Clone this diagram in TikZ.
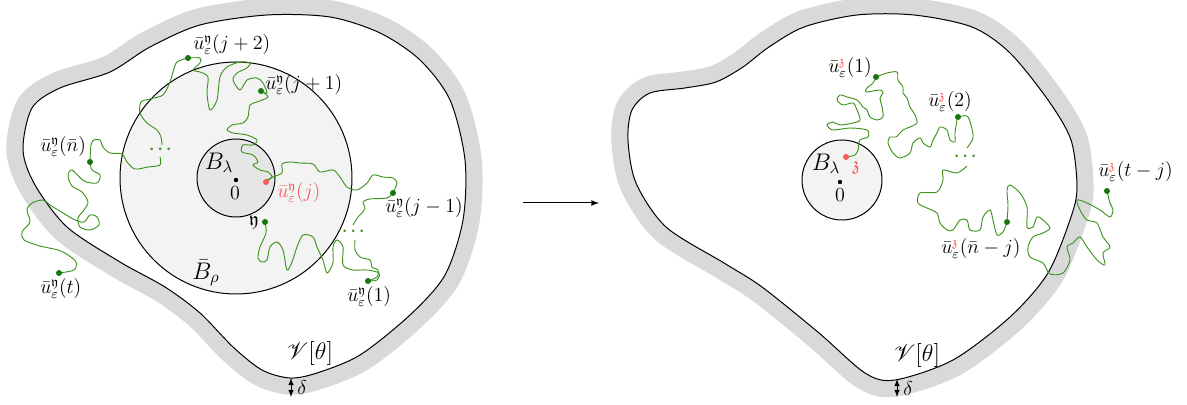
\documentclass[tikz,border=0pt]{standalone}
\usepackage{amsmath,amssymb}
\usepackage{mathrsfs}
\usepackage{xcolor}
\usepackage{tikz}
\usetikzlibrary{arrows,calc}
\definecolor{bandgray}{RGB}{217,217,217}
\definecolor{ballgray}{RGB}{243,243,243}
\definecolor{coregray}{RGB}{230,230,230}
\definecolor{walkgreen}{RGB}{60,145,25}
\definecolor{dotgreen}{RGB}{20,120,10}
\definecolor{hitred}{RGB}{250,90,90}
\newcommand{\uY}[1]{\bar u^{\mathfrak y}_\varepsilon(#1)}
\newcommand{\uZ}[1]{\bar u^{\textcolor{hitred}{\mathfrak z}}_\varepsilon(#1)}
\tikzset{
  domainline/.style={draw=black, fill=white, line width=0.6pt,
    preaction={draw=bandgray, line width=20pt}},
  walk/.style={draw=walkgreen, line width=0.55pt},
  gdot/.style={fill=dotgreen},
  rdot/.style={fill=hitred},
  lbl/.style={inner sep=0pt, font=\fontsize{11.5}{14}\selectfont},
  lblw/.style={lbl, anchor=west},
  big/.style={inner sep=0pt, font=\Large},
  gdots/.style={text=walkgreen, inner sep=0pt, font=\boldmath}
}
\begin{document}
\begin{tikzpicture}[x=0.6pt,y=-0.6pt]
    \useasboundingbox (0,0) rectangle (1187,405);
    \draw[domainline] plot[smooth cycle] coordinates {(23,150) (32,108) (60,88) (110,72) (150,47) (200,25) (267,15) (330,17) (380,33) (420,60) (450,100) (465,160) (463,220) (445,275) (410,315) (360,355) (317,373) (290,378) (262,370) (233,347) (200,313) (165,287) (120,262) (67,227) (35,185)};
    \filldraw[fill=ballgray, line width=0.6pt] (236,178) circle (116);
    \filldraw[fill=coregray, line width=0.6pt] (236,178) circle (39);
    \draw[walk] plot[smooth] coordinates {(265,222) (266,233) (260,247) (258,258) (262,262) (267,260) (270,247) (277,242) (283,250) (287,270) (292,262) (297,247) (303,235) (313,237) (317,247) (323,260) (327,273) (333,263) (333,247) (337,240) (343,247) (343,265) (353,270) (367,270) (379,273) (377,280) (368,281)};
    \draw[walk] plot[smooth] coordinates {(368,281) (377,277) (378,270) (372,267) (370,260) (360,257) (355,250) (355,240)};
    \draw[walk] plot[smooth] coordinates {(353,225) (358,217) (362,213) (365,208) (363,202) (370,199) (387,198) (393,193)};
    \draw[walk] plot[smooth] coordinates {(393,193) (397,183) (393,178) (383,177) (373,175) (367,183) (357,190) (347,187) (340,177) (333,170) (320,172) (313,164) (300,163) (290,162) (282,164) (282,173) (273,177) (266,182)};
    \draw[walk] plot[smooth] coordinates {(266,182) (267,180) (272,177) (268,172) (260,170) (253,165) (258,162) (253,155) (242,152) (243,145) (253,145) (257,140) (247,135) (233,133) (227,130) (232,125) (243,123) (248,117) (250,105) (257,102) (268,97) (261,91)};
    \draw[walk] plot[smooth] coordinates {(261,91) (267,93) (263,83) (257,78) (247,80) (240,90) (233,80) (237,73) (247,68) (250,63) (240,62) (227,67) (220,77) (217,100) (210,110) (207,93) (208,77) (200,72) (193,70) (200,63) (200,58) (188,58)};
    \draw[walk] plot[smooth] coordinates {(188,58) (177,62) (173,72) (170,82) (163,95) (150,99) (141,102) (140,113) (147,123) (157,130) (161,137) (162,145)};
    \draw[walk] plot[smooth] coordinates {(160,157) (160,165) (148,167) (135,169) (127,162) (122,154) (110,153) (103,147) (100,140) (94,140) (91,145) (90,162)};
    \draw[walk] plot[smooth] coordinates {(90,162) (92,170) (100,175) (97,183) (84,181) (72,170) (68,176) (72,186) (82,192) (88,202) (84,210) (78,218) (80,227) (90,230) (99,225) (97,217) (90,215) (84,222) (75,220) (63,213) (50,205) (43,200) (32,203) (27,210) (30,222) (22,232) (24,240) (40,246) (58,250) (68,255) (76,262) (74,270) (59,273)};
    \fill[gdot] (188,58) circle (3);
    \fill[gdot] (261,91) circle (3);
    \fill[gdot] (90,162) circle (3);
    \fill[gdot] (59,273) circle (3);
    \fill[gdot] (265,222) circle (3);
    \fill[gdot] (393,193) circle (3);
    \fill[gdot] (368,281) circle (3);
    \fill[rdot] (266,182) circle (3);
    \fill (236,180) circle (2.2);
    \node[gdots] (ldotsa) at (162,150) {$\cdots$};
    \node[gdots] (ldotsb) at (355,232) {$\cdots$};
    \node[lblw] (uj2) at (193,45) {$\uY{j+2}$};
    \node[lblw] (uj1) at (265,85) {$\uY{j+1}$};
    \node[lblw] (unbar) at (40,147) {$\uY{\bar n}$};
    \node[lblw] (ut) at (40,289) {$\uY{t}$};
    \node[lblw, text=hitred] (uj) at (277,193) {$\uY{j}$};
    \node[lbl] (ymark) at (254,223) {$\mathfrak y$};
    \node[lblw] (ujm) at (385,208) {$\uY{j-1}$};
    \node[lblw] (uone) at (347,297) {$\uY{1}$};
    \node[big] (brho) at (206,273) {$\bar B_\rho$};
    \node[big] (blaml) at (219,163) {$B_\lambda$};
    \node[lbl] (zerol) at (235,193) {$0$};
    \node[big] (vthetal) at (310,354) {$\mathscr V[\theta]$};
    \coordinate (dtopl) at (291,378);
    \coordinate (dbotl) at (291,397);
    \draw[latex-latex, line width=0.5pt] (dtopl) -- (dbotl);
    \node[lbl] (deltal) at (302,388) {$\delta$};
    \coordinate (mapfrom) at (523,203);
    \coordinate (mapto) at (599,203);
    \draw[-latex, line width=0.6pt] (mapfrom) -- (mapto);
    \draw[domainline] plot[smooth cycle] coordinates {(632,110) (650,93) (685,88) (716,82) (743,67) (769,47) (804,27) (857,15) (914,15) (972,27) (1010,53) (1048,100) (1071,140) (1077,187) (1071,217) (1048,273) (1010,317) (953,360) (895,380) (865,373) (819,333) (762,287) (724,263) (666,227) (636,183) (628,140)};
    \filldraw[fill=ballgray, line width=0.6pt] (842,180) circle (40);
    \draw[walk] plot[smooth] coordinates {(846,157) (855,155) (858,150) (860,140) (868,137) (867,130) (850,128) (833,130) (827,125) (833,122) (840,125) (853,123) (860,120) (857,110) (853,103) (843,105) (837,100) (840,95) (847,97) (857,100) (863,107) (867,110) (870,117) (877,120) (883,117) (882,107) (880,98) (883,93) (880,90) (866,92) (867,88) (873,83) (876,77)};
    \draw[walk] plot[smooth] coordinates {(876,77) (887,73) (897,72) (898,80) (903,87) (903,93) (907,98) (910,107) (915,115) (917,123) (910,127) (903,130) (896,137) (890,137) (888,143) (893,153) (900,158) (910,153) (913,143) (920,138) (923,143) (930,147) (933,140) (937,133) (940,127) (947,130) (950,140) (955,142) (955,133) (957,120) (958,117)};
    \draw[walk] plot[smooth] coordinates {(958,117) (967,116) (971,125) (973,138) (967,148)};
    \draw[walk] plot[smooth] coordinates {(967,166) (957,173) (943,170) (943,180) (937,192) (920,193) (918,203) (927,208) (937,213) (940,223) (947,230) (953,230) (960,220) (967,220) (970,230) (980,230) (983,217) (990,210) (993,220) (997,235) (1003,232) (1007,222)};
    \draw[walk] plot[smooth] coordinates {(1007,222) (1008,205) (1007,190) (1010,185) (1020,193) (1027,207) (1027,227) (1033,227) (1037,217) (1043,220) (1050,228) (1043,233) (1033,237) (1028,247) (1030,257) (1043,263) (1050,274) (1063,273) (1070,260) (1067,247) (1073,243) (1080,237) (1087,247) (1097,260) (1105,265) (1103,253) (1110,247) (1103,237) (1097,223) (1087,220) (1080,210) (1077,200) (1087,203) (1100,210) (1110,217) (1113,210) (1110,203) (1108,195) (1107,191)};
    \fill[rdot] (846,157) circle (3);
    \fill[gdot] (876,77) circle (3);
    \fill[gdot] (958,117) circle (3);
    \fill[gdot] (1007,222) circle (3);
    \fill[gdot] (1107,191) circle (3);
    \fill (840,182) circle (2.2);
    \node[gdots] (rdots) at (967,157) {$\cdots$};
    \node[lblw] (zone) at (828,68) {$\uZ{1}$};
    \node[lblw] (ztwo) at (928,102) {$\uZ{2}$};
    \node[lblw] (znj) at (941,249) {$\uZ{\bar n-j}$};
    \node[lblw] (ztj) at (1098,172) {$\uZ{t-j}$};
    \node[lbl, text=hitred] (zmark) at (856,168) {$\mathfrak z$};
    \node[big] (blamr) at (826,164) {$B_\lambda$};
    \node[lbl] (zeror) at (840,195) {$0$};
    \node[big] (vthetar) at (917,356) {$\mathscr V[\theta]$};
    \coordinate (dtopr) at (897,379);
    \coordinate (dbotr) at (897,397);
    \draw[latex-latex, line width=0.5pt] (dtopr) -- (dbotr);
    \node[lbl] (deltar) at (908,389) {$\delta$};
\end{tikzpicture}
\end{document}
